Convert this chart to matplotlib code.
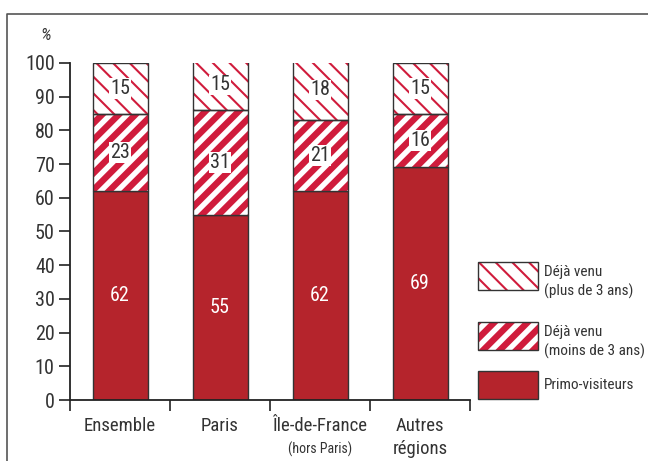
import numpy as np
import matplotlib
matplotlib.use("Agg")
import matplotlib.pyplot as plt
from matplotlib import font_manager as fm
from matplotlib.patches import Rectangle
from matplotlib.lines import Line2D

# pick a narrow sans if one is around
_names = {f.name for f in fm.fontManager.ttflist}
_stretch = "normal"
FONT = None
for cand in ["Liberation Sans Narrow", "Roboto Condensed", "Open Sans Condensed",
             "Noto Sans Condensed", "Arial Narrow"]:
    if cand in _names:
        FONT = cand
        break
if FONT is None:
    if any(f.name == "DejaVu Sans" and f.stretch == "condensed" for f in fm.fontManager.ttflist):
        FONT, _stretch = "DejaVu Sans", "condensed"
    else:
        FONT = "Liberation Sans"
plt.rcParams["font.family"] = [FONT, "DejaVu Sans"]
plt.rcParams["font.stretch"] = _stretch

categories = ["Ensemble", "Paris", "Île-de-France", "Autres\nrégions"]
sublabels = ["", "", "(hors Paris)", ""]
primo = [62, 55, 62, 69]
moins3 = [23, 31, 21, 16]
plus3 = [15, 15, 18, 15]
legend_labels = ["Déjà venu\n(plus de 3 ans)", "Déjà venu\n(moins de 3 ans)", "Primo-visiteurs"]

DARK_RED = "#b5242c"
HATCH_RED = "#d01c3c"
EDGE = "#333333"
TXT = "#333333"
THIN_HW, THICK_HW = 1.5, 4.6

fig = plt.figure(figsize=(6.48, 4.61), dpi=100)
W, H = 648, 461
ax = fig.add_axes([70 / W, (H - 400) / H, 400 / W, 337 / H])

x = np.arange(len(categories))
bw = 0.55
primo = np.array(primo)
moins3 = np.array(moins3)
plus3 = np.array(plus3)


def set_hw(artists, lw):
    for a in artists:
        try:
            a.set_hatch_linewidth(lw)
        except AttributeError:
            pass


ax.bar(x, primo, bw, color=DARK_RED, edgecolor=EDGE, linewidth=1.0)
b2 = ax.bar(x, moins3, bw, bottom=primo, color="white", edgecolor=HATCH_RED,
            hatch="//", linewidth=0)
set_hw(b2, THICK_HW)
b3 = ax.bar(x, plus3, bw, bottom=primo + moins3, color="white", edgecolor=HATCH_RED,
            hatch="\\\\", linewidth=0)
set_hw(b3, THIN_HW)
# dark outlines
for bottoms, vals in [(primo, moins3), (primo + moins3, plus3)]:
    ax.bar(x, vals, bw, bottom=bottoms, fill=False, edgecolor=EDGE, linewidth=1.0)

for i in range(len(x)):
    ax.text(x[i], primo[i] / 2, str(primo[i]), ha="center", va="center",
            color="white", fontsize=14.5)
    ax.text(x[i], primo[i] + moins3[i] / 2, str(moins3[i]), ha="center", va="center",
            color=TXT, fontsize=14.5,
            bbox=dict(facecolor="white", edgecolor="none", pad=0.6))
    ax.text(x[i], primo[i] + moins3[i] + plus3[i] / 2, str(plus3[i]), ha="center",
            va="center", color=TXT, fontsize=14.5,
            bbox=dict(facecolor="white", edgecolor="none", pad=0.6))

ax.set_xlim(-0.5, len(x) - 0.5)
ax.set_ylim(0, 100)
ax.set_yticks(np.arange(0, 101, 10))
ax.set_xticks(np.arange(-0.5, len(x), 1.0))
ax.set_xticklabels([])
ax.tick_params(axis="y", direction="out", length=8, width=1.2, colors="#222222",
               labelsize=14.5, labelcolor=TXT, pad=3)
ax.tick_params(axis="x", direction="out", length=8, width=1.2, colors="#222222")
for s in ["top", "right"]:
    ax.spines[s].set_visible(False)
for s in ["left", "bottom"]:
    ax.spines[s].set_linewidth(1.3)
    ax.spines[s].set_color("#222222")

for i, (c, s) in enumerate(zip(categories, sublabels)):
    ax.text(x[i], -0.05, c, transform=ax.get_xaxis_transform(), ha="center", va="top",
            fontsize=13.5, color=TXT, linespacing=1.35)
    if s:
        ax.text(x[i], -0.125, s, transform=ax.get_xaxis_transform(), ha="center",
                va="top", fontsize=10, color=TXT)

fig.text(46 / W, 1 - 36 / H, "%", ha="center", va="center", fontsize=12.5,
         color=TXT, style="italic")

# legend drawn by hand
leg_specs = [("\\\\", THIN_HW, 276), ("//", THICK_HW, 336), (None, 0, 385)]
for (hatch, hw, yc), lab in zip(leg_specs, legend_labels):
    rx, rw, rh = 478 / W, 60 / W, 28 / H
    ry = 1 - (yc + 14) / H
    if hatch:
        r = Rectangle((rx, ry), rw, rh, transform=fig.transFigure, facecolor="white",
                      edgecolor=HATCH_RED, hatch=hatch, linewidth=0)
        set_hw([r], hw)
        fig.add_artist(r)
        fig.add_artist(Rectangle((rx, ry), rw, rh, transform=fig.transFigure,
                                 fill=False, edgecolor=EDGE, linewidth=1.0))
        fig.text(544 / W, 1 - (yc + 6) / H, lab, ha="left", va="center",
                 fontsize=11, color=TXT, linespacing=1.45)
    else:
        fig.add_artist(Rectangle((rx, ry), rw, rh, transform=fig.transFigure,
                                 facecolor=DARK_RED, edgecolor=EDGE, linewidth=1.0))
        fig.text(544 / W, 1 - yc / H, lab, ha="left", va="center",
                 fontsize=11, color=TXT)

# outer frame (top and left)
fig.add_artist(Line2D([7 / W, 7 / W, 1.0], [0.0, 1 - 14 / H, 1 - 14 / H],
                      transform=fig.transFigure, color="#555555", linewidth=1.2))

fig.savefig("out.png", dpi=100)
